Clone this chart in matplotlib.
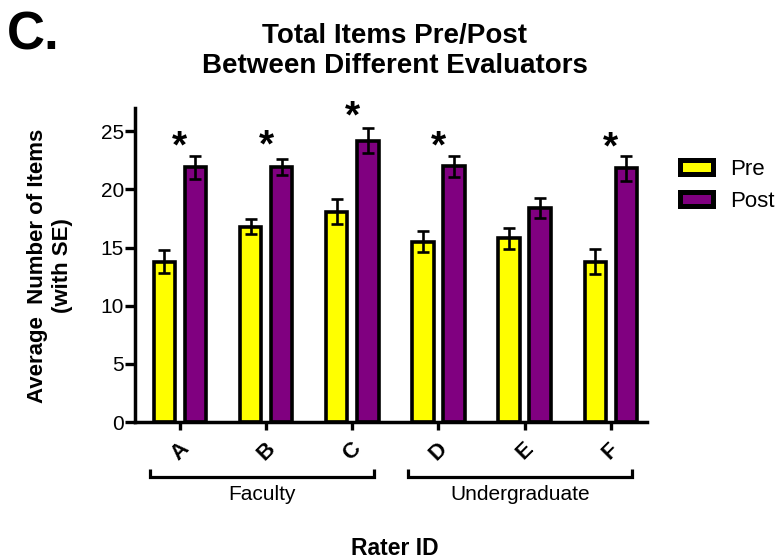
import matplotlib
matplotlib.use("Agg")
import matplotlib.pyplot as plt
import matplotlib.transforms as mtransforms
import numpy as np

plt.rcParams['font.family'] = ['Liberation Sans', 'DejaVu Sans']

raters = ['A', 'B', 'C', 'D', 'E', 'F']
pre_mean = [13.8, 16.8, 18.1, 15.5, 15.8, 13.8]
pre_se = [1.0, 0.65, 1.1, 0.9, 0.9, 1.1]
post_mean = [21.9, 21.9, 24.2, 22.0, 18.4, 21.8]
post_se = [1.0, 0.7, 1.1, 0.9, 0.9, 1.1]
star_y = [24.7, 24.8, 27.3, 24.7, None, 24.6]
groups = [('Faculty', 0, 2), ('Undergraduate', 3, 5)]

W, H = 783, 559
fig = plt.figure(figsize=(W / 100, H / 100), dpi=100)
ax_l, ax_r, ax_b, ax_t = 135, 647, 422, 108
ax = fig.add_axes([ax_l / W, 1 - ax_b / H, (ax_r - ax_l) / W, (ax_b - ax_t) / H])

x = np.arange(len(raters))
off = 0.18
w = 0.25
ekw = dict(ecolor='black', elinewidth=1.9, capsize=4, capthick=1.9)
ax.bar(x - off, pre_mean, w, color='#ffff00', edgecolor='black', linewidth=2.6,
       yerr=pre_se, error_kw=ekw, label='Pre', zorder=2)
ax.bar(x + off, post_mean, w, color='#800080', edgecolor='black', linewidth=2.6,
       yerr=post_se, error_kw=ekw, label='Post', zorder=2)

star_fs = 28
star_tr = mtransforms.offset_copy(ax.transData, fig=fig, y=-0.58 * star_fs, units='points')
for i, sy in enumerate(star_y):
    if sy is not None:
        ax.text(x[i], sy, '*', ha='center', va='baseline', fontsize=star_fs,
                fontweight='bold', clip_on=False, transform=star_tr)

ax.set_xlim(-0.52, 5.42)
ax.set_ylim(0, 27)
ax.set_yticks([0, 5, 10, 15, 20, 25])
ax.set_xticks(x)
ax.set_xticklabels(raters, rotation=45, fontsize=16, fontweight='bold', ha='center', va='top')
shift = mtransforms.ScaledTranslation(-6 / 100, 0, fig.dpi_scale_trans)
for lab in ax.get_xticklabels():
    lab.set_transform(lab.get_transform() + shift)
ax.tick_params(axis='y', labelsize=15, width=2.4, length=7, direction='out', pad=1)
ax.tick_params(axis='x', width=2.4, length=6, direction='out', pad=6)
for sp in ['top', 'right']:
    ax.spines[sp].set_visible(False)
for sp in ['left', 'bottom']:
    ax.spines[sp].set_linewidth(2.5)

ax.set_ylabel('Average  Number of Items\n(with SE)', fontsize=16, fontweight='bold',
              va='center', ha='center', linespacing=1.3)
ax.yaxis.set_label_coords((50 - ax_l) / (ax_r - ax_l), (ax_b - 265.5) / (ax_b - ax_t))

# group brackets
trans = ax.get_xaxis_transform()
hpx = ax_b - ax_t
for name, a, b in groups:
    x0 = a - 0.35
    x1 = b + 0.25
    yb = -(477 - ax_b) / hpx
    yt = -(469 - ax_b) / hpx
    ax.plot([x0, x0, x1, x1], [yt, yb, yb, yt], color='black', lw=2.3,
            transform=trans, clip_on=False, solid_capstyle='butt', solid_joinstyle='miter')
    ax.text((x0 + x1) / 2, -(500 - ax_b) / hpx, name, transform=trans,
            ha='center', va='baseline', fontsize=15)

fig.text(395 / W, 1 - 555 / H, 'Rater ID', ha='center', va='baseline',
         fontsize=16.5, fontweight='bold')

fig.text(395 / W, 1 - 43.3 / H, 'Total Items Pre/Post', ha='center', va='baseline',
         fontsize=20, fontweight='bold')
fig.text(395 / W, 1 - 73.3 / H, 'Between Different Evaluators', ha='center', va='baseline',
         fontsize=20, fontweight='bold')
fig.text(7 / W, 1 - 50 / H, 'C.', ha='left', va='baseline', fontsize=38, fontweight='bold')

leg = ax.legend(loc='upper left', bbox_to_anchor=(679.5 / W, 1 - 159 / H),
                bbox_transform=fig.transFigure, frameon=False, fontsize=16,
                handlelength=1.5, handleheight=0.6, handletextpad=0.8,
                labelspacing=0.5, borderpad=0, borderaxespad=0)
for h in leg.legend_handles:
    h.set_linewidth(3.6)

fig.savefig('out.png', dpi=100)
